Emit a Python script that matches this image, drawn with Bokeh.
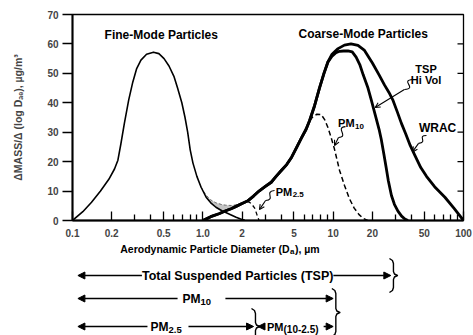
from bokeh.plotting import figure
from bokeh.models import (Range1d, FixedTicker, CustomJSTickFormatter,
                          Label, Arrow, NormalHead, OpenHead)
from bokeh.layouts import column
from bokeh.embed import file_html
from bokeh.resources import INLINE

FONT = "Liberation Sans"

# ---------------- data ----------------
x_ticks = [0.1, 0.2, 0.5, 1, 2, 5, 10, 20, 50, 100]
x_tick_labels = ["0.1", "0.2", "0.5", "1.0", "2", "5", "10", "20", "50", "100"]
x_minor = [0.3, 0.4, 0.6, 0.7, 0.8, 0.9, 3, 4, 6, 7, 8, 9, 30, 40, 60, 70, 80, 90]
y_ticks = [0, 10, 20, 30, 40, 50, 60, 70]
y_right_ticks = [10, 20, 30, 40, 50, 60]

fine_x = [0.10, 0.12, 0.14, 0.164, 0.19, 0.21, 0.223, 0.235, 0.25, 0.27, 0.29, 0.31,
          0.335, 0.37, 0.418, 0.46, 0.504, 0.55, 0.60, 0.64, 0.69, 0.73, 0.765, 0.80,
          0.84, 0.90, 0.97, 1.06, 1.15, 1.26, 1.40, 1.50, 1.65, 1.80, 1.95, 2.10]
fine_y = [0.0, 3.0, 6.2, 10.0, 14.0, 17.5, 20.5, 26.0, 33.0, 41.0, 47.0, 51.5,
          54.5, 56.5, 57.2, 56.7, 55.0, 52.5, 49.0, 45.0, 40.0, 35.0, 30.0, 24.0,
          19.5, 15.0, 11.3, 7.9, 6.0, 4.5, 3.3, 2.7, 1.9, 1.1, 0.5, 0.1]

tsp_x = [1.0, 1.15, 1.33, 1.5, 1.65, 1.8, 2.0, 2.2, 2.45, 2.7, 3.0, 3.35, 3.65, 4.0,
         4.4, 4.8, 5.2, 5.7, 6.2, 6.6, 7.2, 7.85, 8.5, 9.1, 9.8, 10.5, 11.2, 12.0, 13.0,
         14.0, 15.0, 16.0, 17.0, 18.5, 19.6, 21.0, 22.5, 23.4, 24.5, 25.5, 26.5, 28.0,
         29.5, 31.4, 33.5, 35.5, 37.5]
tsp_y = [0.0, 1.3, 2.3, 3.3, 4.0, 4.8, 5.8, 6.6, 8.3, 10.0, 11.5, 13.0, 15.0, 17.0,
         19.0, 21.5, 24.5, 28.0, 31.0, 34.0, 39.0, 45.0, 50.0, 53.8, 55.8, 57.0, 57.5,
         57.6, 57.6, 57.3, 55.5, 53.0, 49.5, 45.0, 41.0, 36.0, 31.0, 27.5, 22.5, 18.0,
         13.5, 8.5, 5.5, 3.2, 1.5, 0.5, 0.0]

wrac_x = [1.0, 1.15, 1.33, 1.5, 1.65, 1.8, 2.0, 2.2, 2.45, 2.7, 3.0, 3.35, 3.65, 4.0,
          4.4, 4.8, 5.2, 5.7, 6.2, 6.6, 7.2, 7.85, 8.5, 9.1, 9.8, 10.9, 12.2, 13.7, 15.5,
          17.4, 20.0, 22.5, 24.8, 26.8, 28.8, 31.0, 33.4, 36.0, 39.0, 42.0, 47.0, 52.0,
          60.0, 72.0, 85.0, 100.0]
wrac_y = [0.0, 1.3, 2.3, 3.3, 4.0, 4.8, 5.8, 6.6, 8.3, 10.0, 11.5, 13.0, 15.0, 17.0,
          19.0, 21.5, 24.5, 28.0, 31.0, 34.0, 39.0, 45.0, 50.0, 53.8, 56.5, 58.4, 59.6,
          60.0, 59.5, 57.8, 53.5, 49.5, 46.0, 43.5, 40.8, 37.0, 33.0, 29.5, 25.5, 22.5,
          18.0, 15.0, 11.5, 7.9, 4.0, 0.0]

pm10_x = [6.6, 7.0, 7.5, 8.1, 8.6, 9.1, 9.6, 10.2, 11.2, 12.2, 13.3, 14.5, 15.8, 17.0, 18.4]
pm10_y = [34.0, 35.3, 36.1, 36.0, 34.3, 31.7, 28.5, 24.5, 17.0, 12.0, 7.5, 4.2, 2.0, 0.7, 0.0]

pm25_x = [2.2, 2.35, 2.5, 2.6, 2.7]
pm25_y = [6.6, 5.8, 4.2, 2.0, 0.0]

shade_x = [0.97, 1.06, 1.15, 1.26, 1.40, 1.50, 1.65, 1.80, 1.95]
shade_lo = [11.3, 7.9, 6.0, 4.5, 3.3, 3.3, 4.0, 4.8, 5.6]
shade_hi = [11.3, 8.6, 7.0, 6.0, 5.4, 5.2, 5.1, 5.3, 5.7]

# size-range arrows below the chart (µm): TSP, PM10, PM2.5, PM(10-2.5)
range_lo = [0.11, 0.11, 0.11, 2.65]
range_hi = [27.7, 10.0, 2.45, 10.0]

# ---------------- main chart ----------------
FRAME_W = 391
PXDEC = FRAME_W / 3.0

p = figure(width=473, height=241, x_axis_type="log",
           x_range=Range1d(0.1, 100), y_range=Range1d(0, 70),
           output_backend="svg", toolbar_location=None,
           min_border_left=72, min_border_right=10, min_border_top=14, min_border_bottom=21)
p.grid.visible = False
p.outline_line_color = "black"
p.outline_line_width = 1.3
p.background_fill_color = "white"
p.border_fill_color = "white"

xa = p.xaxis[0]
xa.ticker = FixedTicker(ticks=x_ticks, minor_ticks=x_minor)
xa.formatter = CustomJSTickFormatter(
    args=dict(tv=x_ticks, tl=x_tick_labels),
    code="""
    for (let i = 0; i < tv.length; i++) {
        if (Math.abs(Math.log10(tv[i]) - Math.log10(tick)) < 1e-6) return tl[i];
    }
    return "";
    """)
xa.major_tick_in = 9
xa.major_tick_out = 0
xa.minor_tick_in = 6
xa.minor_tick_out = 0
xa.axis_line_width = 2
xa.major_tick_line_width = 1.3
xa.minor_tick_line_width = 1.3
xa.major_label_text_font = FONT
xa.major_label_text_font_style = "bold"
xa.major_label_text_font_size = "10px"
xa.major_label_standoff = 8

ya = p.yaxis[0]
ya.ticker = FixedTicker(ticks=y_ticks, minor_ticks=[])
ya.major_tick_in = 0
ya.major_tick_out = 10
ya.axis_line_width = 2
ya.major_tick_line_width = 1.3
ya.major_label_text_font = FONT
ya.major_label_text_font_style = "bold"
ya.major_label_text_font_size = "10px"
ya.major_label_standoff = 4
ya.axis_label = "\u0394MASS/\u0394 (log D\u2090\u2091), \u00b5g/m\u00b3"
ya.axis_label_text_font = FONT
ya.axis_label_text_font_style = "bold"
ya.axis_label_text_font_size = "10.5px"
ya.axis_label_standoff = 20

# inward ticks on the right edge of the frame
x_in = 100 / 10 ** (6 / PXDEC)
p.segment(x0=[x_in] * len(y_right_ticks), y0=y_right_ticks,
          x1=[100] * len(y_right_ticks), y1=y_right_ticks,
          line_color="black", line_width=1.3)

# curves
p.varea(x=shade_x, y1=shade_lo, y2=shade_hi, fill_color="#c4c4c4")
p.line(shade_x, shade_hi, line_color="#6e6e6e", line_width=1, line_dash="3 2")
p.line(fine_x, fine_y, line_color="black", line_width=1.6, line_join="round")
p.line(tsp_x, tsp_y, line_color="black", line_width=2.8, line_join="round")
p.line(wrac_x, wrac_y, line_color="black", line_width=2.8, line_join="round")
p.line(pm10_x, pm10_y, line_color="black", line_width=1.5, line_dash="5 3")
p.line(pm25_x, pm25_y, line_color="black", line_width=1.3, line_dash="4 3")


def lbl(fig, x, y, text, size=10, align="left", yoff=0, xoff=0, bg=None, pad=0):
    kw = dict(x=x, y=y, text=text, text_font=FONT, text_font_style="bold",
              text_font_size=f"{size}px", text_align=align, text_baseline="middle",
              x_offset=xoff, y_offset=yoff, text_color="black")
    if bg is not None:
        kw.update(background_fill_color=bg, padding=pad)
    fig.add_layout(Label(**kw))


lbl(p, 0.48, 63, "Fine-Mode Particles", size=12, align="center")
lbl(p, 17.0, 63.4, "Coarse-Mode Particles", size=12, align="center")
lbl(p, 51.6, 51.5, "TSP", size=11, align="center")
lbl(p, 51.6, 47.6, "Hi Vol", size=11, align="center")
lbl(p, 45.5, 31.3, "WRAC", size=12)
lbl(p, 10.9, 33.0, "PM", size=11)
lbl(p, 10.9, 33.0, "10", size=8, yoff=-3, xoff=17)
lbl(p, 3.62, 9.8, "PM", size=11)
lbl(p, 3.62, 9.8, "2.5", size=8, yoff=-3, xoff=17)

# squiggles + arrows to curves
sq = dict(x0=[40.9, 12.43, 52.0, 3.55], y0=[47.9, 31.9, 28.9, 10.2],
          cx0=[32.1, 10.24, 43.6, 2.92], cy0=[47.6, 31.6, 28.9, 9.85],
          cx1=[45.0, 13.35, 53.9, 3.67], cy1=[44.9, 28.5, 26.5, 7.1],
          x1=[35.2, 10.99, 45.2, 3.03], y1=[44.5, 28.2, 26.2, 6.8])
p.bezier(line_color="black", line_width=1.1, **sq)
tips = [(35.2, 44.5, 21.0, 38.4), (10.99, 28.2, 10.25, 25.5),
        (45.2, 26.2, 40.6, 23.3), (3.03, 6.8, 2.72, 3.7)]
for xs, ys, xe, ye in tips:
    p.add_layout(Arrow(end=OpenHead(size=5, line_width=1.1), x_start=xs, y_start=ys,
                       x_end=xe, y_end=ye, line_width=1.1))

# ---------------- size ranges panel ----------------
QH = 94
q = figure(width=473, height=QH, x_axis_type="log", x_range=p.x_range,
           y_range=Range1d(0, QH), output_backend="svg", toolbar_location=None,
           min_border_left=72, min_border_right=10, min_border_top=0, min_border_bottom=0,
           x_axis_location=None, y_axis_location=None)
q.grid.visible = False
q.outline_line_color = None

# x axis title
lbl(q, 4.62, 87, "Aerodynamic Particle Diameter (D", size=10.5, align="right")
lbl(q, 4.62, 87, "a", size=8, yoff=-3, xoff=0.5)
lbl(q, 4.62, 87, "), \u00b5m", size=10.5, xoff=5.5)


def head():
    return NormalHead(size=7, fill_color="black", line_color="black", line_width=1)


def arrow_to(x_from, x_to, yy):
    q.add_layout(Arrow(end=head(), x_start=x_from, y_start=yy, x_end=x_to, y_end=yy,
                       line_width=1.3))


ROW1, ROW2, ROW3 = 60, 37, 9

# TSP: one double-headed arrow behind a white-backed label
q.add_layout(Arrow(start=head(), end=head(), x_start=range_lo[0], y_start=ROW1,
                   x_end=range_hi[0], y_end=ROW1, line_width=1.3))
lbl(q, 1.85, ROW1, "Total Suspended Particles (TSP)", size=12.5, align="center",
    bg="white", pad=0)

# PM10: two arrows leaving a gap for the label
arrow_to(0.64, range_lo[1], ROW2)
arrow_to(1.49, range_hi[1], ROW2)
lbl(q, 0.96, ROW2, "PM", size=12, align="right")
lbl(q, 0.96, ROW2, "10", size=9.5, yoff=-3)

# PM2.5
arrow_to(0.376, range_lo[2], ROW3)
arrow_to(0.776, range_hi[2], ROW3)
lbl(q, 0.545, ROW3, "PM", size=12, align="right")
lbl(q, 0.545, ROW3, "2.5", size=9.5, yoff=-3)

# PM(10-2.5)
arrow_to(3.0, range_lo[3], ROW3)
arrow_to(8.45, range_hi[3], ROW3)
lbl(q, 4.16, ROW3, "PM", size=11, align="right")
lbl(q, 4.16, ROW3, "(10-2.5)", size=10, yoff=-3)


def brace(xc, yc, h):
    pts = [(-3, h), (0, h - 2), (1, h - 5), (1, 4), (2, 1.5), (5, 0), (2, -1.5),
           (1, -4), (1, -(h - 5)), (0, -(h - 2)), (-3, -h)]
    xs = [xc * 10 ** (dx / PXDEC) for dx, dy in pts]
    ys = [yc + dy for dx, dy in pts]
    q.line(xs, ys, line_color="black", line_width=1.4, line_join="round")


brace(28.5, ROW1, 17)
brace(10.3, 23, 24)
brace(2.49, ROW3, 18)

layout = column(p, q)
open("out.html", "w").write(file_html(layout, INLINE))
